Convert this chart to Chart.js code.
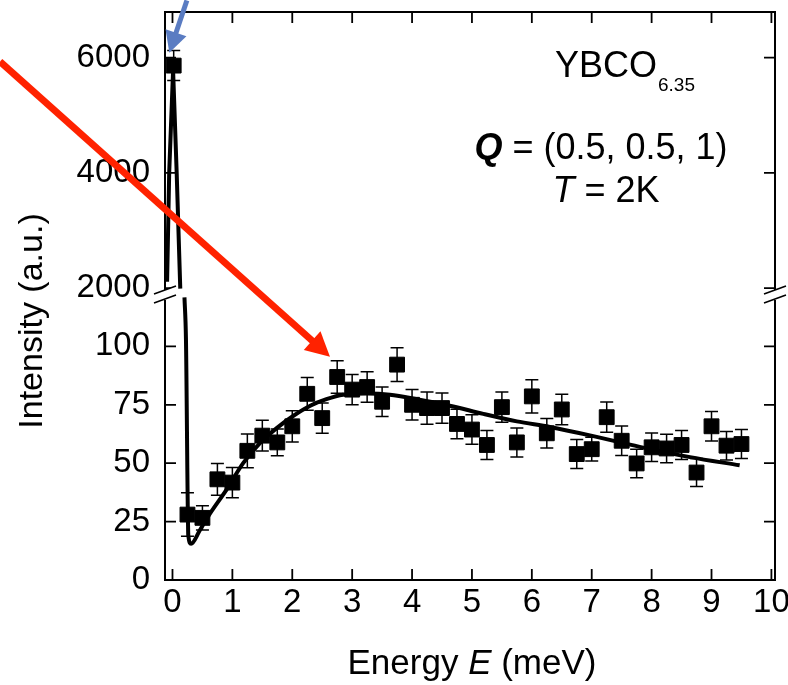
<!DOCTYPE html>
<html>
<head>
<meta charset="utf-8">
<script src="https://cdn.jsdelivr.net/npm/chart.js@4.4.1/dist/chart.umd.min.js"></script>
<style>
  html, body { margin: 0; padding: 0; background: #fff; }
  #wrap { width: 788px; height: 685px; position: relative; }
</style>
</head>
<body>
<div id="wrap"><canvas id="c"></canvas></div>
<script>
// measured spectrum, lower panel
const energy = [0.25, 0.5, 0.75, 1, 1.25, 1.5, 1.75, 2, 2.25, 2.5, 2.75, 3, 3.25, 3.5, 3.75,
    4, 4.25, 4.5, 4.75, 5, 5.25, 5.5, 5.75, 6, 6.25, 6.5, 6.75, 7, 7.25, 7.5, 7.75,
    8, 8.25, 8.5, 8.75, 9, 9.25, 9.5];
const intensity = [28.0, 26.6, 43.1, 41.7, 55.3, 61.8, 58.9, 65.8, 79.7, 69.3, 86.9, 81.5, 82.6, 76.3, 92.2,
    75.0, 73.6, 73.6, 66.8, 64.4, 57.8, 74.0, 58.9, 78.6, 62.8, 73.0, 53.9, 56.0, 69.7, 59.6, 49.9,
    56.8, 56.3, 57.8, 46.0, 65.8, 57.5, 58.2];
const errors = [9.3, 5.2, 6.8, 6.5, 7.2, 6.6, 5.7, 6.7, 7.0, 6.5, 7.0, 6.5, 6.5, 6.3, 7.2,
    6.5, 6.9, 6.5, 6.3, 6.3, 6.2, 6.5, 6.2, 7.1, 6.3, 6.5, 6.2, 5.1, 6.5, 6.3, 6.1,
    6.1, 6.1, 6.2, 6.0, 6.3, 6.1, 6.2];

// elastic peak, upper panel
const peakEnergy = [0.02];
const peakIntensity = [5860];
const peakErrors = [260];

// fit curve
const fitHighE = [-0.09, -0.055, 0.01, 0.07, 0.13];
const fitHighI = [2110, 4000, 5780, 4000, 1990];
const fitLowE = [0.20, 0.225, 0.265, 0.31, 0.45, 0.63, 0.90, 1.18, 1.46, 1.74, 2.02, 2.30, 2.57, 2.85,
    3.25, 3.63, 4.08, 4.63, 5.19, 5.75, 6.30, 6.97, 7.8, 8.64, 9.47];
const fitLowI = [121, 103, 19, 15.5, 21, 28.6, 38.6, 50, 58.6, 65, 70.3, 74.6, 77.4, 79.3,
    79.8, 79.3, 77.4, 74.6, 71.1, 67.9, 65.5, 61.9, 57, 52.6, 49.1];

// tick labels
const energyTicks = [0, 1, 2, 3, 4, 5, 6, 7, 8, 9, 10];
const lowTicks = [0, 25, 50, 75, 100];
const highTicks = [2000, 4000, 6000];

const FONT = "'Liberation Sans', Arial, sans-serif";

const pts = (xs, ys) => xs.map((x, i) => ({x: x, y: ys[i]}));

// frame with break marks and inward ticks
const framePlugin = {
    id: 'frame',
    beforeDatasetsDraw(chart) {
        // error bars
        const ctx = chart.ctx;
        ctx.save();
        ctx.strokeStyle = '#000';
        ctx.lineWidth = 1.5;
        const bars = (xs, ys, es, yScale) => {
            xs.forEach((x, i) => {
                const px = chart.scales.x.getPixelForValue(x);
                const top = yScale.getPixelForValue(ys[i] + es[i]);
                const bot = yScale.getPixelForValue(ys[i] - es[i]);
                ctx.beginPath();
                ctx.moveTo(px, top); ctx.lineTo(px, bot);
                ctx.moveTo(px - 6.5, top); ctx.lineTo(px + 6.5, top);
                ctx.moveTo(px - 6.5, bot); ctx.lineTo(px + 6.5, bot);
                ctx.stroke();
            });
        };
        bars(energy, intensity, errors, chart.scales.y);
        bars(peakEnergy, peakIntensity, peakErrors, chart.scales.y2);
        ctx.restore();
    },
    afterDatasetsDraw(chart) {
        const {ctx, chartArea: a, scales} = chart;
        const brk = scales.y.top;
        ctx.save();
        ctx.strokeStyle = '#000';
        ctx.lineWidth = 2;
        ctx.beginPath();
        ctx.moveTo(a.left, brk - 5); ctx.lineTo(a.left, a.top); ctx.lineTo(a.right, a.top); ctx.lineTo(a.right, brk - 5);
        ctx.moveTo(a.left, brk + 5); ctx.lineTo(a.left, a.bottom); ctx.lineTo(a.right, a.bottom); ctx.lineTo(a.right, brk + 5);
        ctx.stroke();

        ctx.lineWidth = 1.8;
        ctx.beginPath();
        energyTicks.forEach(v => {
            const px = scales.x.getPixelForValue(v);
            ctx.moveTo(px, a.bottom); ctx.lineTo(px, a.bottom - 11);
            ctx.moveTo(px, a.top); ctx.lineTo(px, a.top + 11);
        });
        lowTicks.filter(v => v > 0).forEach(v => {
            const py = scales.y.getPixelForValue(v);
            ctx.moveTo(a.left, py); ctx.lineTo(a.left + 11, py);
            ctx.moveTo(a.right, py); ctx.lineTo(a.right - 11, py);
        });
        highTicks.forEach(v => {
            const py = scales.y2.getPixelForValue(v);
            ctx.moveTo(a.left, py); ctx.lineTo(a.left + 11, py);
            ctx.moveTo(a.right, py); ctx.lineTo(a.right - 11, py);
        });
        ctx.stroke();

        // break marks
        [a.left, a.right].forEach(X => {
            ctx.fillStyle = '#fff';
            ctx.beginPath();
            ctx.moveTo(X - 11, brk - 1); ctx.lineTo(X + 11, brk - 9);
            ctx.lineTo(X + 11, brk); ctx.lineTo(X - 11, brk + 8);
            ctx.closePath();
            ctx.fill();
            ctx.lineWidth = 1.6;
            ctx.beginPath();
            ctx.moveTo(X - 11, brk - 1); ctx.lineTo(X + 11, brk - 9);
            ctx.moveTo(X - 11, brk + 8); ctx.lineTo(X + 11, brk);
            ctx.stroke();
        });
        ctx.restore();
    },
    afterDraw(chart) {
        const {ctx, scales} = chart;
        ctx.save();
        ctx.fillStyle = '#000';
        ctx.textBaseline = 'alphabetic';

        // axis titles
        ctx.font = '34px ' + FONT;
        ctx.save();
        ctx.translate(42, 321);
        ctx.rotate(-Math.PI / 2);
        ctx.textAlign = 'center';
        ctx.fillText('Intensity (a.u.)', 0, 0);
        ctx.restore();

        const runs = (parts, cx, y) => {
            let w = 0;
            parts.forEach(p => { ctx.font = p[1]; w += ctx.measureText(p[0]).width; });
            let x = cx - w / 2;
            ctx.textAlign = 'left';
            parts.forEach(p => { ctx.font = p[1]; ctx.fillText(p[0], x, y); x += ctx.measureText(p[0]).width; });
        };
        runs([['Energy ', '35px ' + FONT], ['E', 'italic 35px ' + FONT], [' (meV)', '35px ' + FONT]], 472, 674);

        // sample labels
        ctx.font = '36px ' + FONT;
        ctx.textAlign = 'left';
        ctx.fillText('YBCO', 555, 77);
        const wy = ctx.measureText('YBCO').width;
        ctx.font = '19px ' + FONT;
        ctx.fillText('6.35', 555 + wy + 1, 91);
        runs([['Q', 'italic bold 36px ' + FONT], [' = (0.5, 0.5, 1)', '36px ' + FONT]], 601, 159);
        runs([['T', 'italic 36px ' + FONT], [' = 2K', '36px ' + FONT]], 606, 202);

        // arrows
        const arrow = (x0, y0, x1, y1, color, lw, len, half) => {
            const dx = x1 - x0, dy = y1 - y0, d = Math.hypot(dx, dy);
            const ux = dx / d, uy = dy / d;
            const bx = x1 - ux * len, by = y1 - uy * len;
            ctx.strokeStyle = color;
            ctx.fillStyle = color;
            ctx.lineWidth = lw;
            ctx.lineCap = 'butt';
            ctx.beginPath();
            ctx.moveTo(x0, y0); ctx.lineTo(bx + ux * 2, by + uy * 2);
            ctx.stroke();
            ctx.beginPath();
            ctx.moveTo(x1, y1);
            ctx.lineTo(bx - uy * half, by + ux * half);
            ctx.lineTo(bx + uy * half, by - ux * half);
            ctx.closePath();
            ctx.fill();
        };
        const X = scales.x, Y = scales.y, Y2 = scales.y2;
        arrow(X.getPixelForValue(-2.88), Y2.getPixelForValue(5930),
              X.getPixelForValue(2.63), Y.getPixelForValue(95.6), '#ff2200', 7, 24, 12.5);
        arrow(X.getPixelForValue(0.24), Y2.getPixelForValue(6990),
              X.getPixelForValue(-0.053), Y2.getPixelForValue(6083), '#5a7cc2', 5, 21, 11);
        ctx.restore();
    }
};

const zeroPad = s => { s.paddingTop = 0; s.paddingBottom = 0; s.paddingLeft = 0; s.paddingRight = 0; };
const tickFont = {family: FONT, size: 33};
const plain = v => String(v);

new Chart(document.getElementById('c'), {
    type: 'scatter',
    data: {
        datasets: [
            {
                data: pts(fitLowE, fitLowI),
                yAxisID: 'y',
                showLine: true,
                borderColor: '#000',
                borderWidth: 4,
                pointRadius: 0,
                cubicInterpolationMode: 'monotone'
            },
            {
                data: pts(fitHighE, fitHighI),
                yAxisID: 'y2',
                showLine: true,
                borderColor: '#000',
                borderWidth: 4,
                pointRadius: 0
            },
            {
                data: pts(energy, intensity),
                yAxisID: 'y',
                pointStyle: 'rect',
                pointRadius: 10.5,
                backgroundColor: '#000',
                borderColor: '#000',
                borderWidth: 1
            },
            {
                data: pts(peakEnergy, peakIntensity),
                yAxisID: 'y2',
                pointStyle: 'rect',
                pointRadius: 10.5,
                backgroundColor: '#000',
                borderColor: '#000',
                borderWidth: 1
            }
        ]
    },
    options: {
        responsive: true,
        maintainAspectRatio: false,
        animation: false,
        layout: { padding: { left: 0, right: 13, top: 12, bottom: 0 } },
        plugins: {
            legend: { display: false },
            tooltip: { enabled: false }
        },
        scales: {
            x: {
                type: 'linear',
                min: -0.125,
                max: 10.06,
                afterBuildTicks: s => { s.ticks = energyTicks.map(v => ({value: v})); },
                afterFit: s => { s.height = 105; zeroPad(s); },
                ticks: { font: tickFont, color: '#000', padding: 3, autoSkip: false, maxRotation: 0, callback: plain },
                grid: { display: false, drawTicks: false },
                border: { display: false }
            },
            y: {
                type: 'linear',
                position: 'left',
                stack: 'intensity',
                stackWeight: 285,
                min: 0,
                max: 122,
                afterBuildTicks: s => { s.ticks = lowTicks.map(v => ({value: v})); },
                afterFit: s => { s.width = 165; zeroPad(s); },
                ticks: { font: tickFont, color: '#000', padding: 15, autoSkip: false, callback: plain },
                grid: { display: false, drawTicks: false },
                border: { display: false }
            },
            y2: {
                type: 'linear',
                position: 'left',
                stack: 'intensity',
                stackWeight: 283,
                min: 1880,
                max: 6790,
                afterBuildTicks: s => { s.ticks = highTicks.map(v => ({value: v})); },
                afterFit: s => { s.width = 165; zeroPad(s); },
                ticks: { font: tickFont, color: '#000', padding: 15, autoSkip: false, callback: plain },
                grid: { display: false, drawTicks: false },
                border: { display: false }
            }
        }
    },
    plugins: [framePlugin]
});
</script>
</body>
</html>
